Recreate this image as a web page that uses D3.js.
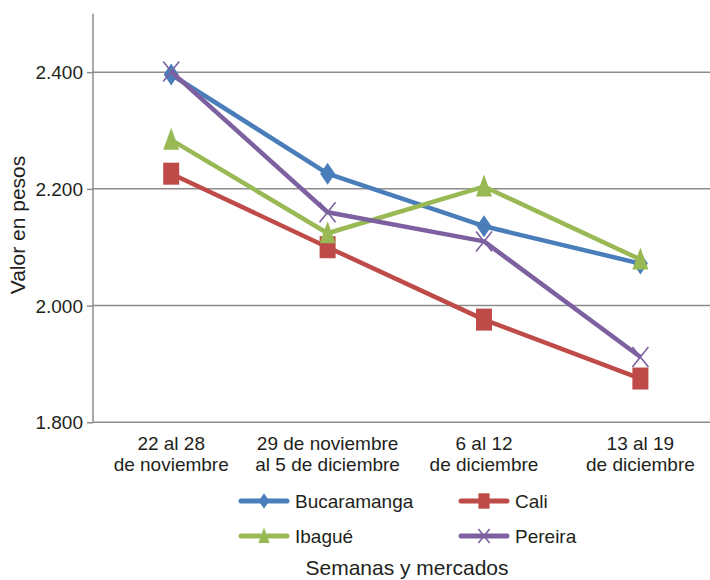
<!DOCTYPE html>
<html><head><meta charset="utf-8">
<script src="https://cdn.jsdelivr.net/npm/d3@7"></script>
<style>body{margin:0;background:#fff}svg{display:block}text{font-family:"Liberation Sans",Arial,sans-serif;fill:#231f20}</style>
</head><body><svg id="c" width="710" height="580"></svg>
<script>
const categories = [["22 al 28","de noviembre"],["29 de noviembre","al 5 de diciembre"],["6 al 12","de diciembre"],["13 al 19","de diciembre"]];
const seriesNames = ["Bucaramanga","Cali","Ibagué","Pereira"];
const bucaramanga = [2396, 2226, 2136, 2072];
const cali = [2226, 2100, 1976, 1875];
const ibague = [2284, 2124, 2204, 2079];
const pereira = [2401, 2160, 2110, 1912];
const yTicks = [1800, 2000, 2200, 2400];
const yTickLabels = ["1.800","2.000","2.200","2.400"];
const colors = ["#4a7ebb","#be4b48","#98b954","#7d60a0"];
const markers = ["diamond","square","triangle","x"];

const svg = d3.select("#c");
const L = 93, R = 718.6, T = 13.8, B = 422.3;
const x = d3.scaleBand().domain(d3.range(categories.length)).range([L, R]).padding(0);
const y = d3.scaleLinear().domain([1800, 2500]).range([B, T]);
const cx = i => x(i) + x.bandwidth()/2;

// gridlines
svg.append("g").selectAll("line").data(yTicks.filter(v=>v>1800)).join("line")
  .attr("x1", L).attr("x2", R).attr("y1", d=>y(d)).attr("y2", d=>y(d))
  .attr("stroke", "#8c8c8c").attr("stroke-width", 1.5);
// y axis
const ya = svg.append("g").attr("transform", `translate(${L},0)`)
  .call(d3.axisLeft(y).tickValues(yTicks).tickFormat((d,i)=>yTickLabels[i]).tickSize(6).tickPadding(4));
ya.select(".domain").attr("stroke","#8c8c8c").attr("stroke-width",1.5).attr("d", `M0,${T}V${B}`);
ya.selectAll(".tick line").attr("stroke","#8c8c8c").attr("stroke-width",1.5);
ya.selectAll(".tick text").style("font-size","19px").attr("fill","#231f20").attr("dy","0.35em");
// x axis line
svg.append("line").attr("x1", L).attr("x2", R).attr("y1", B).attr("y2", B).attr("stroke","#8c8c8c").attr("stroke-width",1.5);
// category labels
const cl = svg.append("g").selectAll("text").data(categories).join("text")
  .attr("text-anchor","middle").style("font-size","19px");
cl.each(function(d,i){
  const t = d3.select(this);
  d.forEach((ln,j)=>t.append("tspan").attr("x", cx(i)).attr("y", 450 + j*21).text(ln));
});

// marker path generator
function markerPath(type, s){
  const w = 7.5*s, h = 11*s;
  if(type==="diamond") return `M0,${-h}L${w},0L0,${h}L${-w},0Z`;
  if(type==="square") return `M${-8*s},${-11*s}H${8*s}V${11*s}H${-8*s}Z`;
  if(type==="triangle") return `M0,${-12*s}L${8*s},${10*s}L${-8*s},${10*s}Z`;
  return `M${-8*s},${-10*s}L${8*s},${10*s}M${8*s},${-10*s}L${-8*s},${10*s}`;
}
function drawMarker(g, type, color, px, py, s){
  const p = g.append("path").attr("d", markerPath(type,s)).attr("transform",`translate(${px},${py})`);
  if(type==="x") p.attr("fill","none").attr("stroke",color).attr("stroke-width",1.6);
  else p.attr("fill",color);
}

const allSeries = [bucaramanga, cali, ibague, pereira];
const line = d3.line().x((d,i)=>cx(i)).y(d=>y(d));
allSeries.forEach((vals, k)=>{
  const g = svg.append("g");
  g.append("path").attr("d", line(vals)).attr("fill","none").attr("stroke", colors[k])
    .attr("stroke-width", 4.5).attr("stroke-linejoin","round");
  vals.forEach((v,i)=>drawMarker(g, markers[k], colors[k], cx(i), y(v), 1));
});

// legend
const legPos = [[241,501],[461,501],[241,536],[461,536]];
seriesNames.forEach((n,k)=>{
  const [lx,ly] = legPos[k];
  const g = svg.append("g");
  g.append("line").attr("x1",lx).attr("x2",lx+46).attr("y1",ly).attr("y2",ly)
    .attr("stroke",colors[k]).attr("stroke-width",5).attr("stroke-linecap","round");
  drawMarker(g, markers[k], colors[k], lx+23, ly, 0.7);
  g.append("text").attr("x", lx+54).attr("y", ly).attr("dy","0.35em").style("font-size","19px").text(n);
});

// axis titles
svg.append("text").attr("transform","translate(25,225) rotate(-90)").attr("text-anchor","middle")
  .style("font-size","21px").text("Valor en pesos");
svg.append("text").attr("x",407).attr("y",575).attr("text-anchor","middle").style("font-size","21px").text("Semanas y mercados");
</script></body></html>
